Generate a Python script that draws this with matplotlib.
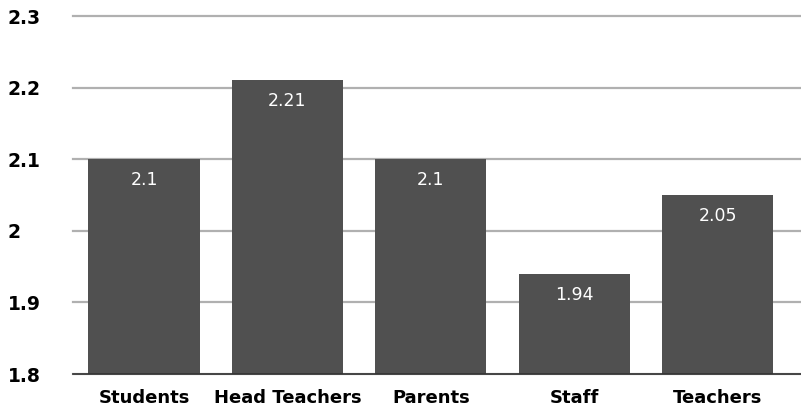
import matplotlib
matplotlib.use('Agg')
from matplotlib import pyplot as plt

categories = ['Students', 'Head Teachers', 'Parents', 'Staff', 'Teachers']
values = [2.1, 2.21, 2.1, 1.94, 2.05]
value_labels = ['2.1', '2.21', '2.1', '1.94', '2.05']
yticks = [1.8, 1.9, 2.0, 2.1, 2.2, 2.3]
ytick_labels = ['1.8', '1.9', '2', '2.1', '2.2', '2.3']

plt.rcParams['font.family'] = ['DejaVu Sans']

fig = plt.figure(figsize=(8.01, 4.15), dpi=100)
ax = fig.add_axes([73 / 801, 41 / 415, 1 - 73 / 801, 358 / 415])

base = 1.8
x = range(len(categories))
ax.bar(x, [v - base for v in values], bottom=base, width=0.775,
       color='#505050', zorder=3)

for i, v in enumerate(values):
    ax.text(i, v - 0.029, value_labels[i], color='white', ha='center',
            va='center', fontsize=12.5, zorder=4)

ax.set_ylim(1.8, 2.3)
ax.set_xlim(-0.495, 4.58)
ax.set_yticks(yticks)
ax.set_yticklabels(ytick_labels, fontsize=13.5, fontweight='bold', ha='left')
ax.set_xticks(list(x))
ax.set_xticklabels(categories, fontsize=13, fontweight='bold')
ax.tick_params(axis='y', length=0, pad=47)
ax.tick_params(axis='x', length=0, pad=11)
for lbl in ax.get_yticklabels():
    lbl.set_verticalalignment('center_baseline')

ax.yaxis.grid(True, color='#b0b0b0', linewidth=1.6, zorder=0)
for gl in ax.yaxis.get_gridlines():
    gl.set_clip_on(False)
for s in ['top', 'right', 'left']:
    ax.spines[s].set_visible(False)
ax.spines['bottom'].set_color('#333333')
ax.spines['bottom'].set_linewidth(1.2)
ax.spines['bottom'].set_zorder(5)

plt.savefig('out.png', dpi=100)
